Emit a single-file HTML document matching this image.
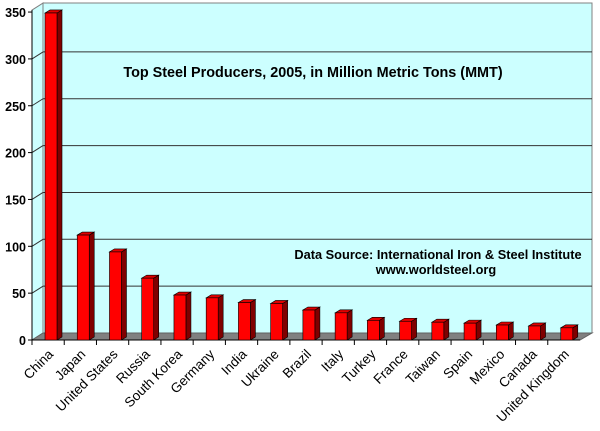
<!DOCTYPE html>
<html><head><meta charset="utf-8"><style>
body{margin:0;background:#fff;}
svg{display:block;font-family:"Liberation Sans",Arial,sans-serif;}
</style></head><body>
<svg id="chart" width="600" height="431"></svg>
<script>
const categories=["China","Japan","United States","Russia","South Korea","Germany","India","Ukraine","Brazil","Italy","Turkey","France","Taiwan","Spain","Mexico","Canada","United Kingdom"];
const values=[349,112,94,66,48,45,40,39,32,29,21,20,19,18,16,15,13];
const yTicks=[0,50,100,150,200,250,300,350];
const NS="http://www.w3.org/2000/svg";
const svg=document.getElementById('chart');
const X0=32,X1=580,Y0=340,PX=0.937,DX=11,DY=-7;
const cw=(X1-X0)/categories.length;
const y=v=>Y0-v*PX;
const xc=i=>X0+i*cw;
function el(t,a,p){const e=document.createElementNS(NS,t);for(const k in a)e.setAttribute(k,a[k]);(p||svg).appendChild(e);return e;}
const wall=el('polygon',{points:`${X0+DX},${y(350)+DY-2} ${X1+DX+1},${y(350)+DY-2} ${X1+DX+1},${Y0+DY} ${X0+DX},${Y0+DY}`,fill:'#ccffff',stroke:'#808080'});


const side=el('polygon',{points:`${X0},${y(350)-2} ${X0+DX},${y(350)+DY-2} ${X0+DX},${Y0+DY} ${X0},${Y0}`,fill:'#ccffff',stroke:'#808080'});


const floor=el('polygon',{points:`${X0},${Y0} ${X0+DX},${Y0+DY} ${X1+DX+1},${Y0+DY} ${X1},${Y0}`,fill:'#808080',stroke:'#606060'});


yTicks.forEach(v=>{
 if(v>0&&v<350){const g=el('line',{x1:X0+DX,x2:X1+DX+1,y1:y(v)+DY,y2:y(v)+DY,stroke:'#333','stroke-width':1});
 
 
 el('line',{x1:X0,x2:X0+DX,y1:y(v),y2:y(v)+DY,stroke:'#333'});}
 const tk=el('line',{x1:X0-4,x2:X0,y1:y(v),y2:y(v),stroke:'#000'});
 
 
 const t=el('text',{x:X0-6,y:y(v)+5,'text-anchor':'end','font-size':12.5,'font-weight':'bold'});
 t.textContent=v;
 
 
});
el('line',{x1:X0,x2:X0,y1:y(350)-2,y2:Y0,stroke:'#000'});
el('line',{x1:X0,x2:X1,y1:Y0,y2:Y0,stroke:'#000'});
categories.forEach((c,i)=>{
 const tk=el('line',{x1:xc(i),x2:xc(i),y1:Y0,y2:Y0+5,stroke:'#000'});
 
 
 const bx=xc(i)+13,bw=12,d=5,dd=-3,top=y(values[i]);
 const g=el('g',{});
 
 
 el('polygon',{points:`${bx+bw},${top} ${bx+bw+d},${top+dd} ${bx+bw+d},${Y0+dd} ${bx+bw},${Y0}`,fill:'#800000',stroke:'#000','stroke-width':0.6},g);
 el('polygon',{points:`${bx},${top} ${bx+d},${top+dd} ${bx+bw+d},${top+dd} ${bx+bw},${top}`,fill:'#e00000',stroke:'#000','stroke-width':0.6},g);
 el('rect',{x:bx,y:top,width:bw,height:Y0-top,fill:'#ff0000',stroke:'#000','stroke-width':0.6},g);
 const cx=xc(i)+cw/2+6;
 const t=el('text',{x:cx,y:Y0+15,'text-anchor':'end','font-size':13.5,transform:`rotate(-45 ${cx} ${Y0+15})`});
 t.textContent=c;
 
 
});
const title=el('text',{x:313,y:77,'text-anchor':'middle','font-size':14.4,'font-weight':'bold'});
title.textContent='Top Steel Producers, 2005, in Million Metric Tons (MMT)';


const s1=el('text',{x:438,y:259,'text-anchor':'middle','font-size':12.8,'font-weight':'bold'});
s1.textContent='Data Source: International Iron & Steel Institute';


const s2=el('text',{x:436,y:274,'text-anchor':'middle','font-size':12.8,'font-weight':'bold'});
s2.textContent='www.worldsteel.org';


</script>
</body></html>
